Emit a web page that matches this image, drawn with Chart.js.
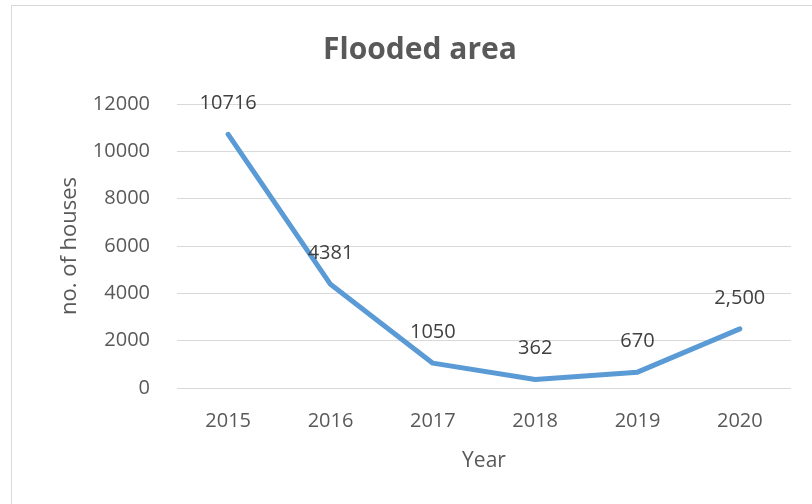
<!DOCTYPE html>
<html>
<head>
<meta charset="utf-8">
<script src="https://cdn.jsdelivr.net/npm/chart.js@4"></script>
<style>
  html, body { margin: 0; padding: 0; background: #fff; }
  #wrap { width: 812px; height: 504px; position: relative; }
</style>
</head>
<body>
<div id="wrap"><canvas id="c" width="812" height="504"></canvas></div>
<script>
const years = ['2015', '2016', '2017', '2018', '2019', '2020'];
const houses = [10716, 4381, 1050, 362, 670, 2500];
const valueLabels = ['10716', '4381', '1050', '362', '670', '2,500'];
const yTicks = [0, 2000, 4000, 6000, 8000, 10000, 12000];

const FONT = "'Open Sans', 'Liberation Sans', sans-serif";

const frame = {
  id: 'frame',
  beforeDraw(chart) {
    const ctx = chart.ctx;
    ctx.save();
    ctx.fillStyle = '#ffffff';
    ctx.fillRect(0, 0, chart.width, chart.height);
    ctx.strokeStyle = '#d9d9d9';
    ctx.lineWidth = 1;
    ctx.strokeRect(11.5, 5.5, chart.width + 50, chart.height + 50);
    ctx.restore();
  }
};

const dataLabels = {
  id: 'dataLabels',
  afterDatasetsDraw(chart) {
    const ctx = chart.ctx;
    const meta = chart.getDatasetMeta(0);
    ctx.save();
    ctx.font = "20px " + FONT;
    ctx.fillStyle = '#404040';
    ctx.textAlign = 'center';
    ctx.textBaseline = 'middle';
    meta.data.forEach((pt, i) => {
      ctx.fillText(valueLabels[i], pt.x, pt.y - 31);
    });
    ctx.restore();
  }
};

new Chart(document.getElementById('c'), {
  type: 'line',
  data: {
    labels: years,
    datasets: [{
      data: houses,
      borderColor: '#5b9bd5',
      borderWidth: 5,
      pointRadius: 0,
      tension: 0,
      fill: false,
      borderCapStyle: 'round',
      borderJoinStyle: 'round',
      yAxisID: 'y'
    }]
  },
  options: {
    responsive: false,
    animation: false,
    devicePixelRatio: 1,
    layout: { padding: { left: 28, right: 0, top: 0, bottom: 0 } },
    plugins: {
      legend: { display: false },
      tooltip: { enabled: false },
      title: {
        display: true,
        text: 'Flooded area',
        color: '#595959',
        font: { family: FONT, size: 30, weight: 'bold' },
        padding: { top: 32, bottom: 36 }
      }
    },
    scales: {
      x: {
        offset: true,
        grid: { display: false },
        border: { display: false },
        ticks: {
          color: '#595959',
          font: { family: FONT, size: 20 },
          padding: 13,
          maxRotation: 0
        },
        title: {
          display: true,
          text: 'Year',
          color: '#595959',
          font: { family: FONT, size: 21 },
          padding: { top: 0, bottom: 30 }
        },
        afterFit(s) { s.height = 116; }
      },
      y: {
        min: 0,
        max: 12000,
        afterBuildTicks(s) { s.ticks = yTicks.map(v => ({ value: v })); },
        grid: { color: '#d9d9d9', lineWidth: 1, drawTicks: false },
        border: { display: false },
        ticks: {
          color: '#595959',
          font: { family: FONT, size: 20 },
          padding: 27,
          callback: v => String(v)
        },
        title: {
          display: true,
          text: 'no. of houses',
          color: '#595959',
          font: { family: FONT, size: 22 },
          padding: { top: 29, bottom: 0 }
        },
        afterFit(s) { s.width = 149; }
      },
      yRight: {
        position: 'right',
        display: true,
        grid: { display: false, drawTicks: false },
        border: { display: false },
        ticks: { display: false },
        afterFit(s) { s.width = 21; }
      }
    }
  },
  plugins: [frame, dataLabels]
});
</script>
</body>
</html>
